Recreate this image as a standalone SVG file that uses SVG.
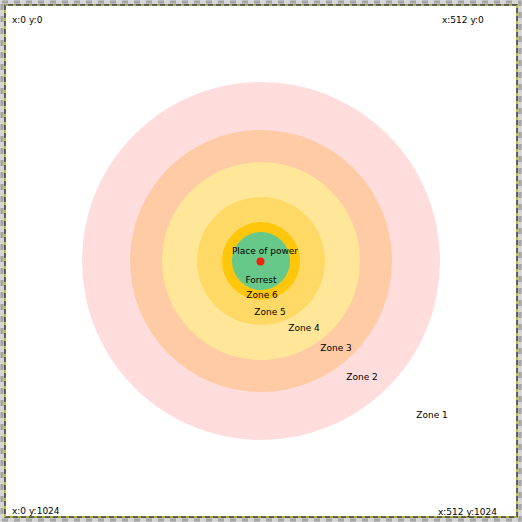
<svg xmlns="http://www.w3.org/2000/svg" width="522" height="522" viewBox="0 0 522 522">
<style>
text{font-family:"DejaVu Sans",sans-serif;font-size:9px;fill:#000}
.c{text-anchor:middle}
</style>
<rect x="0" y="0" width="522" height="522" fill="#d6d6d6"/>
<rect x="2" y="2" width="518" height="518" fill="none" stroke="#a4a4a4" stroke-width="3" stroke-dasharray="6,6"/>
<rect x="5" y="5" width="512" height="512" fill="#ffffff"/>
<rect x="5" y="5" width="512" height="512" fill="none" stroke="#000" stroke-width="1.2"/>
<rect x="5" y="5" width="512" height="512" fill="none" stroke="#ffff00" stroke-width="1.2" stroke-dasharray="3,5"/>
<g id="zone1"><circle cx="261" cy="261" r="179" fill="#ffdddd"/></g>
<g id="zone2"><circle cx="261" cy="261" r="131" fill="#ffcba4"/></g>
<g id="zone3"><circle cx="261" cy="261" r="99" fill="#ffe699"/></g>
<g id="zone4"><circle cx="261" cy="261" r="64" fill="#ffd966"/></g>
<g id="zone5"><circle cx="261" cy="261" r="39" fill="#ffc60b"/></g>
<g id="forrest"><circle cx="261" cy="261" r="29" fill="#66c98a"/></g>
<g id="place"><circle cx="260.5" cy="261.5" r="4" fill="#ee2211"/></g>
<g id="labels">
<text class="c" x="265" y="253.5">Place of power</text>
<text class="c" x="261" y="283">Forrest</text>
<text class="c" x="262" y="298">Zone 6</text>
<text class="c" x="270" y="315">Zone 5</text>
<text class="c" x="304" y="331">Zone 4</text>
<text class="c" x="336" y="351">Zone 3</text>
<text class="c" x="362" y="380">Zone 2</text>
<text class="c" x="432" y="418">Zone 1</text>
<text x="12" y="23">x:0 y:0</text>
<text x="442" y="23">x:512 y:0</text>
<text x="12" y="514">x:0 y:1024</text>
<text x="438" y="515">x:512 y:1024</text>
</g>
</svg>
